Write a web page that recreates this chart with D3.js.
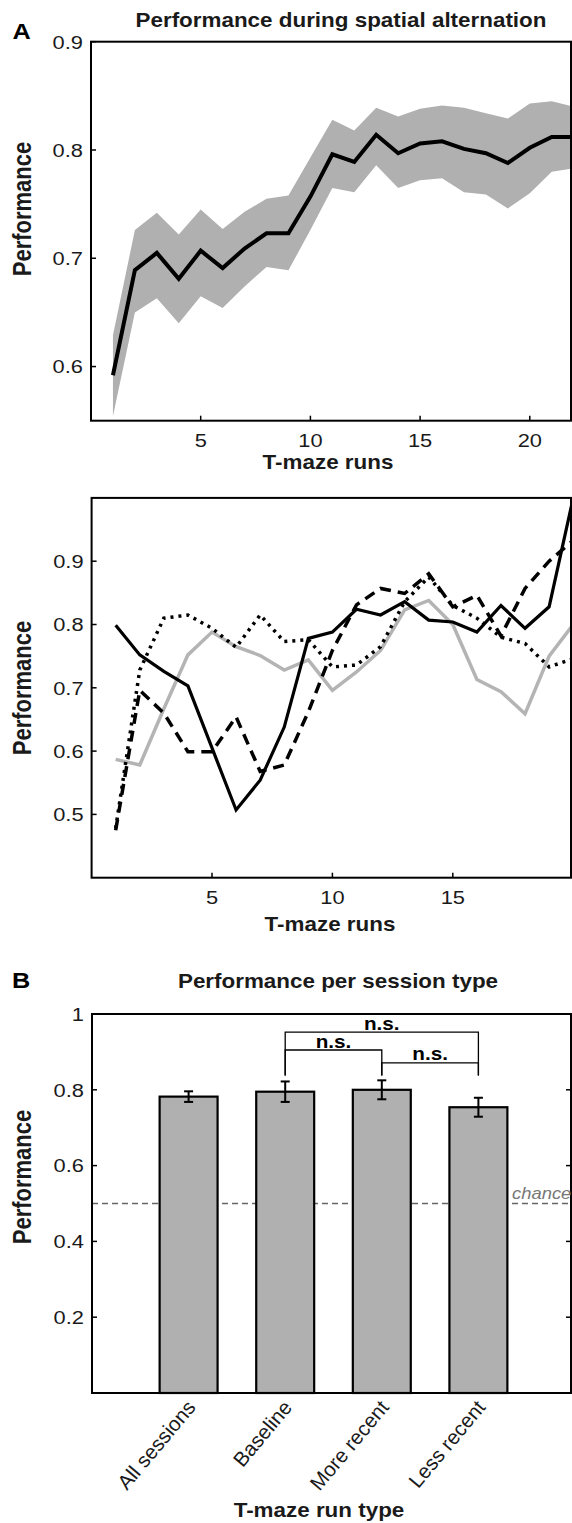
<!DOCTYPE html>
<html><head><meta charset="utf-8">
<script src="https://cdn.jsdelivr.net/npm/d3@7"></script>
<style>
body{margin:0;background:#fff;}
svg{display:block;font-family:"Liberation Sans",Arial,Helvetica,sans-serif;}
</style></head>
<body><svg id="c" width="572" height="1523"></svg>
<script>
// ---- Data ----
const runsA = d3.range(1, 23);
const meanA = [0.592,0.689,0.705,0.681,0.707,0.691,0.709,0.723,0.723,0.757,0.796,0.789,0.814,0.797,0.806,0.808,0.801,0.797,0.788,0.802,0.812,0.812];
const upperA = [0.629,0.726,0.742,0.722,0.745,0.727,0.743,0.755,0.758,0.793,0.828,0.818,0.839,0.831,0.838,0.841,0.839,0.834,0.829,0.843,0.845,0.840];
const lowerA = [0.554,0.650,0.663,0.640,0.665,0.654,0.674,0.692,0.689,0.726,0.765,0.761,0.786,0.765,0.772,0.774,0.761,0.759,0.746,0.760,0.780,0.783];
const yTicksA = [0.6,0.7,0.8,0.9];
const xTicksA = [5,10,15,20];

const runsB = d3.range(1, 21);
const solidB  = [0.799,0.752,0.726,0.703,0.605,0.507,0.554,0.638,0.778,0.788,0.824,0.815,0.836,0.807,0.804,0.788,0.830,0.794,0.828,1.000];
const dashedB = [0.475,0.696,0.660,0.599,0.599,0.654,0.568,0.578,0.662,0.759,0.831,0.857,0.849,0.880,0.828,0.846,0.782,0.857,0.900,0.933];
const dottedB = [0.478,0.728,0.810,0.815,0.794,0.764,0.815,0.773,0.776,0.733,0.736,0.765,0.836,0.875,0.830,0.810,0.780,0.770,0.733,0.746];
const grayB   = [0.587,0.578,0.667,0.752,0.788,0.765,0.751,0.728,0.744,0.696,0.725,0.759,0.823,0.838,0.800,0.713,0.694,0.659,0.750,0.800];
const yTicksB = [0.5,0.6,0.7,0.8,0.9];
const xTicksB = [5,10,15];

const categories = ["All sessions","Baseline","More recent","Less recent"];
const barValues = [0.782,0.795,0.800,0.754];
const barErrors = [0.014,0.027,0.025,0.025];
const yTicksC = [0.2,0.4,0.6,0.8,1];
const chance = 0.5;
// significance comparisons: [from index, to index, bracket height]
const sigPairs = [[1,3,0.952],[1,2,0.905],[2,3,0.871]];
const sigLegBottom = 0.838;

// ---- Setup ----
const svg = d3.select("#c");
const SX = 1.15;           // horizontal stretch of the original figure's text
const TICK = 19;
const LAB = 19.5;
const fmt = d => (d === 1 ? "1" : d3.format(".1f")(d));

// text helper: anchored at (x,y), stretched horizontally, optional rotation
function txt(x, y, s, o) {
  o = o || {};
  const sx = o.sx != null ? o.sx : SX;
  const t = svg.append("text")
    .attr("transform", `translate(${x},${y}) scale(${sx},1)` + (o.rot ? ` rotate(${o.rot})` : ""))
    .attr("font-size", o.size || TICK)
    .attr("font-weight", o.bold ? "bold" : null)
    .attr("font-style", o.italic ? "italic" : null)
    .attr("fill", o.fill || "#1a1a1a")
    .attr("text-anchor", o.anchor || "middle")
    .text(s);
  if (o.dy) t.attr("dy", o.dy);
  return t;
}
function frame(g, x0, x1, y0, y1) {
  g.append("rect").attr("x", x0).attr("y", y0).attr("width", x1 - x0).attr("height", y1 - y0)
    .attr("fill", "none").attr("stroke", "#000").attr("stroke-width", 2);
}
function clip(id, x0, x1, y0, y1) {
  svg.append("clipPath").attr("id", id).append("rect")
    .attr("x", x0).attr("y", y0).attr("width", x1 - x0).attr("height", y1 - y0);
}
function yAxis(g, y, ticks, x0, x1, rightTicks) {
  ticks.forEach(t => {
    g.append("line").attr("x1", x0).attr("x2", x0 + 5).attr("y1", y(t)).attr("y2", y(t)).attr("stroke", "#000").attr("stroke-width", 1.5);
    if (rightTicks) g.append("line").attr("x1", x1 - 5).attr("x2", x1).attr("y1", y(t)).attr("y2", y(t)).attr("stroke", "#000").attr("stroke-width", 1.5);
    txt(x0 - 8, y(t), fmt(t), {anchor: "end", dy: "0.36em"});
  });
}
function xAxis(g, x, ticks, yb, labelY) {
  ticks.forEach(t => {
    g.append("line").attr("x1", x(t)).attr("x2", x(t)).attr("y1", yb).attr("y2", yb - 5).attr("stroke", "#000").attr("stroke-width", 1.5);
    txt(x(t), labelY, String(t));
  });
}

// ---- Panel A (top) ----
{
  const L = 91, R = 571, T = 41.7, B = 420.7;
  const x = d3.scaleLinear().domain([0, 22]).range([L, L + 22 * 21.94]);
  const y = d3.scaleLinear().domain([0.55, 0.9]).range([B, T]);
  clip("clipA", L, R, T, B);
  const g = svg.append("g");
  const area = d3.area().x((d, i) => x(runsA[i])).y0((d, i) => y(lowerA[i])).y1((d, i) => y(upperA[i]));
  g.append("path").datum(meanA).attr("d", area).attr("fill", "#b0b0b0").attr("clip-path", "url(#clipA)");
  const line = d3.line().x((d, i) => x(runsA[i])).y(d => y(d));
  g.append("path").datum(meanA).attr("d", line).attr("fill", "none").attr("stroke", "#000")
    .attr("stroke-width", 4).attr("stroke-linejoin", "miter").attr("clip-path", "url(#clipA)");
  frame(g, L, R, T, B);
  yAxis(g, y, yTicksA, L, R, false);
  xAxis(g, x, xTicksA, B, 447);
  txt(328, 469, "T-maze runs", {size: LAB, bold: true});
  txt(31, 209, "Performance", {size: 22, bold: true, rot: -90});
  txt(341, 27, "Performance during spatial alternation", {size: LAB, bold: true});
  txt(12.5, 39, "A", {size: 22, bold: true, anchor: "start", fill: "#000"});
}

// ---- Panel A (bottom, individual animals) ----
{
  const L = 91.6, R = 571, T = 497.9, B = 877.7;
  const x = d3.scaleLinear().domain([0, 20]).range([L, L + 20 * 24.08]);
  const y = d3.scaleLinear().domain([0.4, 1.0]).range([B, T]);
  clip("clipB", L, R, T, B);
  const g = svg.append("g");
  const line = d3.line().x((d, i) => x(runsB[i])).y(d => y(d));
  const series = [
    {v: grayB, c: "#b4b4b4", dash: null, w: 3.5},
    {v: dottedB, c: "#000", dash: "3,5", w: 3.5},
    {v: dashedB, c: "#000", dash: "11,7", w: 3.5},
    {v: solidB, c: "#000", dash: null, w: 3.2}
  ];
  series.forEach(s => {
    const p = g.append("path").datum(s.v).attr("d", line).attr("fill", "none").attr("stroke", s.c)
      .attr("stroke-width", s.w).attr("clip-path", "url(#clipB)");
    if (s.dash) p.attr("stroke-dasharray", s.dash);
  });
  frame(g, L, R, T, B);
  yAxis(g, y, yTicksB, L, R, false);
  xAxis(g, x, xTicksB, B, 904);
  txt(330, 931, "T-maze runs", {size: LAB, bold: true});
  txt(31, 688, "Performance", {size: 22, bold: true, rot: -90});
}

// ---- Panel B (bars) ----
{
  const L = 92, R = 571, T = 1014, B = 1393;
  const x = d3.scaleLinear().domain([0, 5]).range([L, L + 5 * 96.6]);
  const y = d3.scaleLinear().domain([0, 1]).range([B, T]);
  const bw = 0.6 * 96.6;
  const g = svg.append("g");
  // chance line
  g.append("line").attr("x1", L).attr("x2", R).attr("y1", y(chance)).attr("y2", y(chance))
    .attr("stroke", "#666").attr("stroke-width", 1.6).attr("stroke-dasharray", "6,4");
  txt(512, y(chance) - 5, "chance", {size: 16, italic: true, fill: "#777", anchor: "start"});
  // bars
  barValues.forEach((v, i) => {
    g.append("rect").attr("x", x(i + 1) - bw / 2).attr("y", y(v)).attr("width", bw).attr("height", B - y(v))
      .attr("fill", "#b0b0b0").attr("stroke", "#000").attr("stroke-width", 2.2);
  });
  // error bars
  barValues.forEach((v, i) => {
    const cx = x(i + 1), e = barErrors[i];
    g.append("line").attr("x1", cx).attr("x2", cx).attr("y1", y(v + e)).attr("y2", y(v - e)).attr("stroke", "#000").attr("stroke-width", 2);
    [v + e, v - e].forEach(val => g.append("line").attr("x1", cx - 4.5).attr("x2", cx + 4.5)
      .attr("y1", y(val)).attr("y2", y(val)).attr("stroke", "#000").attr("stroke-width", 2));
  });
  // significance brackets
  sigPairs.forEach(([a, b, h]) => {
    const xa = x(a + 1), xb = x(b + 1);
    g.append("path").attr("d", `M${xa},${y(sigLegBottom)}V${y(h)}H${xb}V${y(sigLegBottom)}`)
      .attr("fill", "none").attr("stroke", "#000").attr("stroke-width", 1.3);
    txt((xa + xb) / 2, y(h) - 2.5, "n.s.", {size: 18, bold: true, fill: "#000"});
  });
  frame(g, L, R, T, B);
  yAxis(g, y, yTicksC, L, R, true);
  categories.forEach((c, i) => {
    txt(x(i + 1) + 8, B + 15, c, {size: 20.5, rot: -50, anchor: "end", sx: 1});
  });
  txt(319, 1517, "T-maze run type", {size: LAB, bold: true});
  txt(31, 1177, "Performance", {size: 22, bold: true, rot: -90});
  txt(338, 988, "Performance per session type", {size: LAB, bold: true});
  txt(12, 988, "B", {size: 22, bold: true, anchor: "start", fill: "#000"});
}
</script></body></html>
